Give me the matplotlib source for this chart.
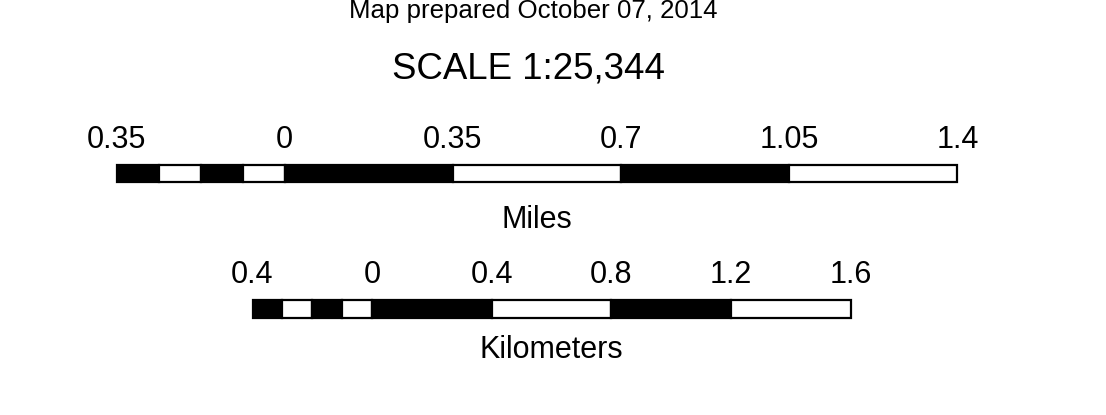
import matplotlib
matplotlib.use("Agg")
import matplotlib.pyplot as plt
from matplotlib.transforms import blended_transform_factory

plt.rcParams['font.family'] = ['Liberation Sans', 'DejaVu Sans']

# ---- data ----
title_small = "Map prepared October 07, 2014"
title_big = "SCALE 1:25,344"

mile_edges = [-0.35, -0.2625, -0.175, -0.0875, 0, 0.35, 0.7, 1.05, 1.4]
mile_fill = ['black', 'white', 'black', 'white', 'black', 'white', 'black', 'white']
mile_ticks = [-0.35, 0, 0.35, 0.7, 1.05, 1.4]
mile_labels = ["0.35", "0", "0.35", "0.7", "1.05", "1.4"]
mile_unit = "Miles"

km_edges = [-0.4, -0.3, -0.2, -0.1, 0, 0.4, 0.8, 1.2, 1.6]
km_fill = ['black', 'white', 'black', 'white', 'black', 'white', 'black', 'white']
km_ticks = [-0.4, 0, 0.4, 0.8, 1.2, 1.6]
km_labels = ["0.4", "0", "0.4", "0.8", "1.2", "1.6"]
km_unit = "Kilometers"

W, H = 1106, 415
fig = plt.figure(figsize=(W / 100, H / 100), dpi=100)
fig.patch.set_facecolor('white')


def px_axes(x0, x1, ytop, ybot):
    return fig.add_axes([x0 / W, 1 - ybot / H, (x1 - x0) / W, (ybot - ytop) / H])


def draw_bar(ax, edges, fills, ticks, labels, unit, lab_gap, unit_gap):
    lefts = edges[:-1]
    widths = [b - a for a, b in zip(edges[:-1], edges[1:])]
    ax.bar(lefts, [1] * len(lefts), width=widths, bottom=0, align='edge',
           color=fills, edgecolor='black', linewidth=1.6, clip_on=False)
    ax.set_xlim(edges[0], edges[-1])
    ax.set_ylim(0, 1)
    ax.axis('off')
    tr = blended_transform_factory(ax.transData, ax.transAxes)
    for t, l in zip(ticks, labels):
        ax.annotate(l, xy=(t, 1), xycoords=tr, xytext=(0, lab_gap),
                    textcoords='offset pixels', ha='center', va='baseline',
                    fontsize=22)
    ax.annotate(unit, xy=(0.5, 0), xycoords='axes fraction',
                xytext=(0, -unit_gap), textcoords='offset pixels',
                ha='center', va='baseline', fontsize=22)


ax1 = px_axes(116.5, 957.5, 165.5, 182.5)
draw_bar(ax1, mile_edges, mile_fill, mile_ticks, mile_labels, mile_unit, 17.5, 45.5)

ax2 = px_axes(252.5, 850.5, 299.5, 317.5)
draw_bar(ax2, km_edges, km_fill, km_ticks, km_labels, km_unit, 16.5, 40.5)

fig.text(533 / W, 1 - 18 / H, title_small, ha='center', va='baseline', fontsize=18.6)
fig.text(528.5 / W, 1 - 78.3 / H, title_big, ha='center', va='baseline', fontsize=26.4)

fig.savefig("out.png", dpi=100, facecolor='white')
